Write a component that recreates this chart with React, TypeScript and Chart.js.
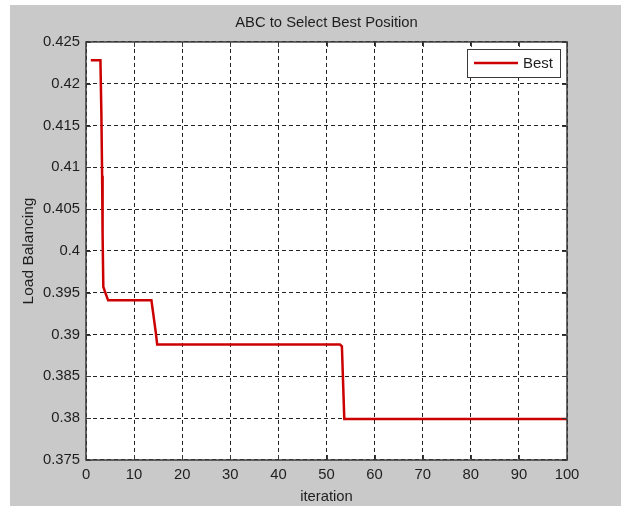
import React, { useEffect, useRef } from 'react';
import { Chart, registerables } from 'chart.js';

Chart.register(...registerables);

const TITLE = 'ABC to Select Best Position';
const X_LABEL = 'iteration';
const Y_LABEL = 'Load Balancing';
const SERIES_LABEL = 'Best';

const iterX = [1, 3, 3.2, 3.35, 3.45, 3.6, 4.6, 13.6, 14.5, 14.8, 52.8, 53.2, 53.7, 100];
const bestY = [0.4228, 0.4228, 0.4163, 0.409, 0.402, 0.3957, 0.3941, 0.3941, 0.3903, 0.3888, 0.3888, 0.3886, 0.3799, 0.3799];

const xTicks = [0, 10, 20, 30, 40, 50, 60, 70, 80, 90, 100];
const yTicks = [0.375, 0.38, 0.385, 0.39, 0.395, 0.4, 0.405, 0.41, 0.415, 0.42, 0.425];

const FONT = "'Liberation Sans', Arial, Helvetica, sans-serif";
const TEXT = '#1e1e1e';
const BORDER = '#3a3a3a';
const LINE = '#cc0000';

const matlabPlugin = {
  id: 'matlabLook',
  beforeDraw(chart: any) {
    const { ctx, chartArea: a, width, height } = chart;
    ctx.save();
    ctx.fillStyle = '#ffffff';
    ctx.fillRect(0, 0, width, height);
    ctx.fillStyle = '#c9c9c9';
    ctx.fillRect(10, 5, width - 10, height - 5);
    ctx.fillStyle = '#ffffff';
    ctx.fillRect(a.left, a.top, a.right - a.left, a.bottom - a.top);
    ctx.restore();
  },
  afterDatasetsDraw(chart: any) {
    const { ctx, chartArea: a, scales } = chart;
    const xs = scales.x;
    const ys = scales.y;
    ctx.save();
    ctx.strokeStyle = BORDER;
    ctx.lineWidth = 1.5;
    ctx.setLineDash([]);
    ctx.strokeRect(a.left, a.top, a.right - a.left, a.bottom - a.top);
    const tl = 5;
    ctx.lineWidth = 1;
    ctx.beginPath();
    xTicks.forEach((v) => {
      const px = Math.round(xs.getPixelForValue(v)) + 0.5;
      ctx.moveTo(px, a.bottom);
      ctx.lineTo(px, a.bottom - tl);
      ctx.moveTo(px, a.top);
      ctx.lineTo(px, a.top + tl);
    });
    yTicks.forEach((v) => {
      const py = Math.round(ys.getPixelForValue(v)) + 0.5;
      ctx.moveTo(a.left, py);
      ctx.lineTo(a.left + tl, py);
      ctx.moveTo(a.right, py);
      ctx.lineTo(a.right - tl, py);
    });
    ctx.stroke();

    // legend box (top-right inside plot area)
    const ds = chart.data.datasets[0];
    const bw = 93;
    const bh = 28;
    const bx = a.right - 7 - bw;
    const by = a.top + 7;
    ctx.fillStyle = '#ffffff';
    ctx.fillRect(bx, by, bw, bh);
    ctx.strokeStyle = BORDER;
    ctx.lineWidth = 1;
    ctx.strokeRect(Math.round(bx) + 0.5, Math.round(by) + 0.5, bw, bh);
    const my = by + bh / 2;
    ctx.strokeStyle = ds.borderColor;
    ctx.lineWidth = 2.5;
    ctx.beginPath();
    ctx.moveTo(bx + 7, my);
    ctx.lineTo(bx + 51, my);
    ctx.stroke();
    ctx.fillStyle = TEXT;
    ctx.font = `15px ${FONT}`;
    ctx.textBaseline = 'middle';
    ctx.textAlign = 'left';
    ctx.fillText(ds.label, bx + 56, my + 1);
    ctx.restore();
  },
};

export default function App() {
  const ref = useRef<HTMLCanvasElement | null>(null);

  useEffect(() => {
    if (!ref.current) return;
    const points = iterX.map((x, i) => ({ x, y: bestY[i] }));
    const chart = new Chart(ref.current, {
      type: 'line',
      data: {
        datasets: [
          {
            label: SERIES_LABEL,
            data: points,
            borderColor: LINE,
            backgroundColor: LINE,
            borderWidth: 2.5,
            pointRadius: 0,
            tension: 0,
            fill: false,
          },
        ],
      },
      options: {
        responsive: false,
        animation: false,
        devicePixelRatio: 1,
        layout: { padding: { left: 10, right: 54, top: 0, bottom: 0 } },
        plugins: {
          legend: { display: false },
          tooltip: { enabled: false },
          title: {
            display: true,
            fullSize: false,
            text: TITLE,
            color: TEXT,
            font: { family: FONT, size: 14.8, weight: 'normal' },
            padding: { top: 14, bottom: 10.2 },
          },
        },
        scales: {
          x: {
            type: 'linear',
            min: 0,
            max: 100,
            afterBuildTicks: (s: any) => {
              s.ticks = xTicks.map((v) => ({ value: v }));
            },
            afterFit: (s: any) => {
              s.height = 46;
            },
            grid: { color: '#222', lineWidth: 1, drawTicks: false },
            border: { display: false, dash: [4, 3] },
            ticks: {
              color: TEXT,
              padding: 6,
              maxRotation: 0,
              autoSkip: false,
              font: { family: FONT, size: 14.8 },
              callback: (v: any) => String(v),
            },
            title: {
              display: true,
              text: X_LABEL,
              color: TEXT,
              font: { family: FONT, size: 14.8 },
              padding: { top: 3, bottom: 0 },
            },
          },
          y: {
            type: 'linear',
            min: 0.375,
            max: 0.425,
            afterBuildTicks: (s: any) => {
              s.ticks = yTicks.map((v) => ({ value: v }));
            },
            afterFit: (s: any) => {
              s.width = 76;
            },
            grid: { color: '#222', lineWidth: 1, drawTicks: false },
            border: { display: false, dash: [4, 3] },
            ticks: {
              color: TEXT,
              padding: 6,
              autoSkip: false,
              font: { family: FONT, size: 14.8 },
              callback: (v: any) => String(Number(Number(v).toFixed(3))),
            },
            title: {
              display: true,
              text: Y_LABEL,
              color: TEXT,
              font: { family: FONT, size: 15.5 },
              padding: { top: 9, bottom: 0 },
            },
          },
        },
      },
      plugins: [matlabPlugin],
    });
    return () => chart.destroy();
  }, []);

  return (
    <div style={{ position: 'fixed', left: 0, top: 0, width: 621, height: 506, background: '#fff' }}>
      <canvas ref={ref} width={621} height={506} style={{ display: 'block', width: 621, height: 506 }} />
    </div>
  );
}
